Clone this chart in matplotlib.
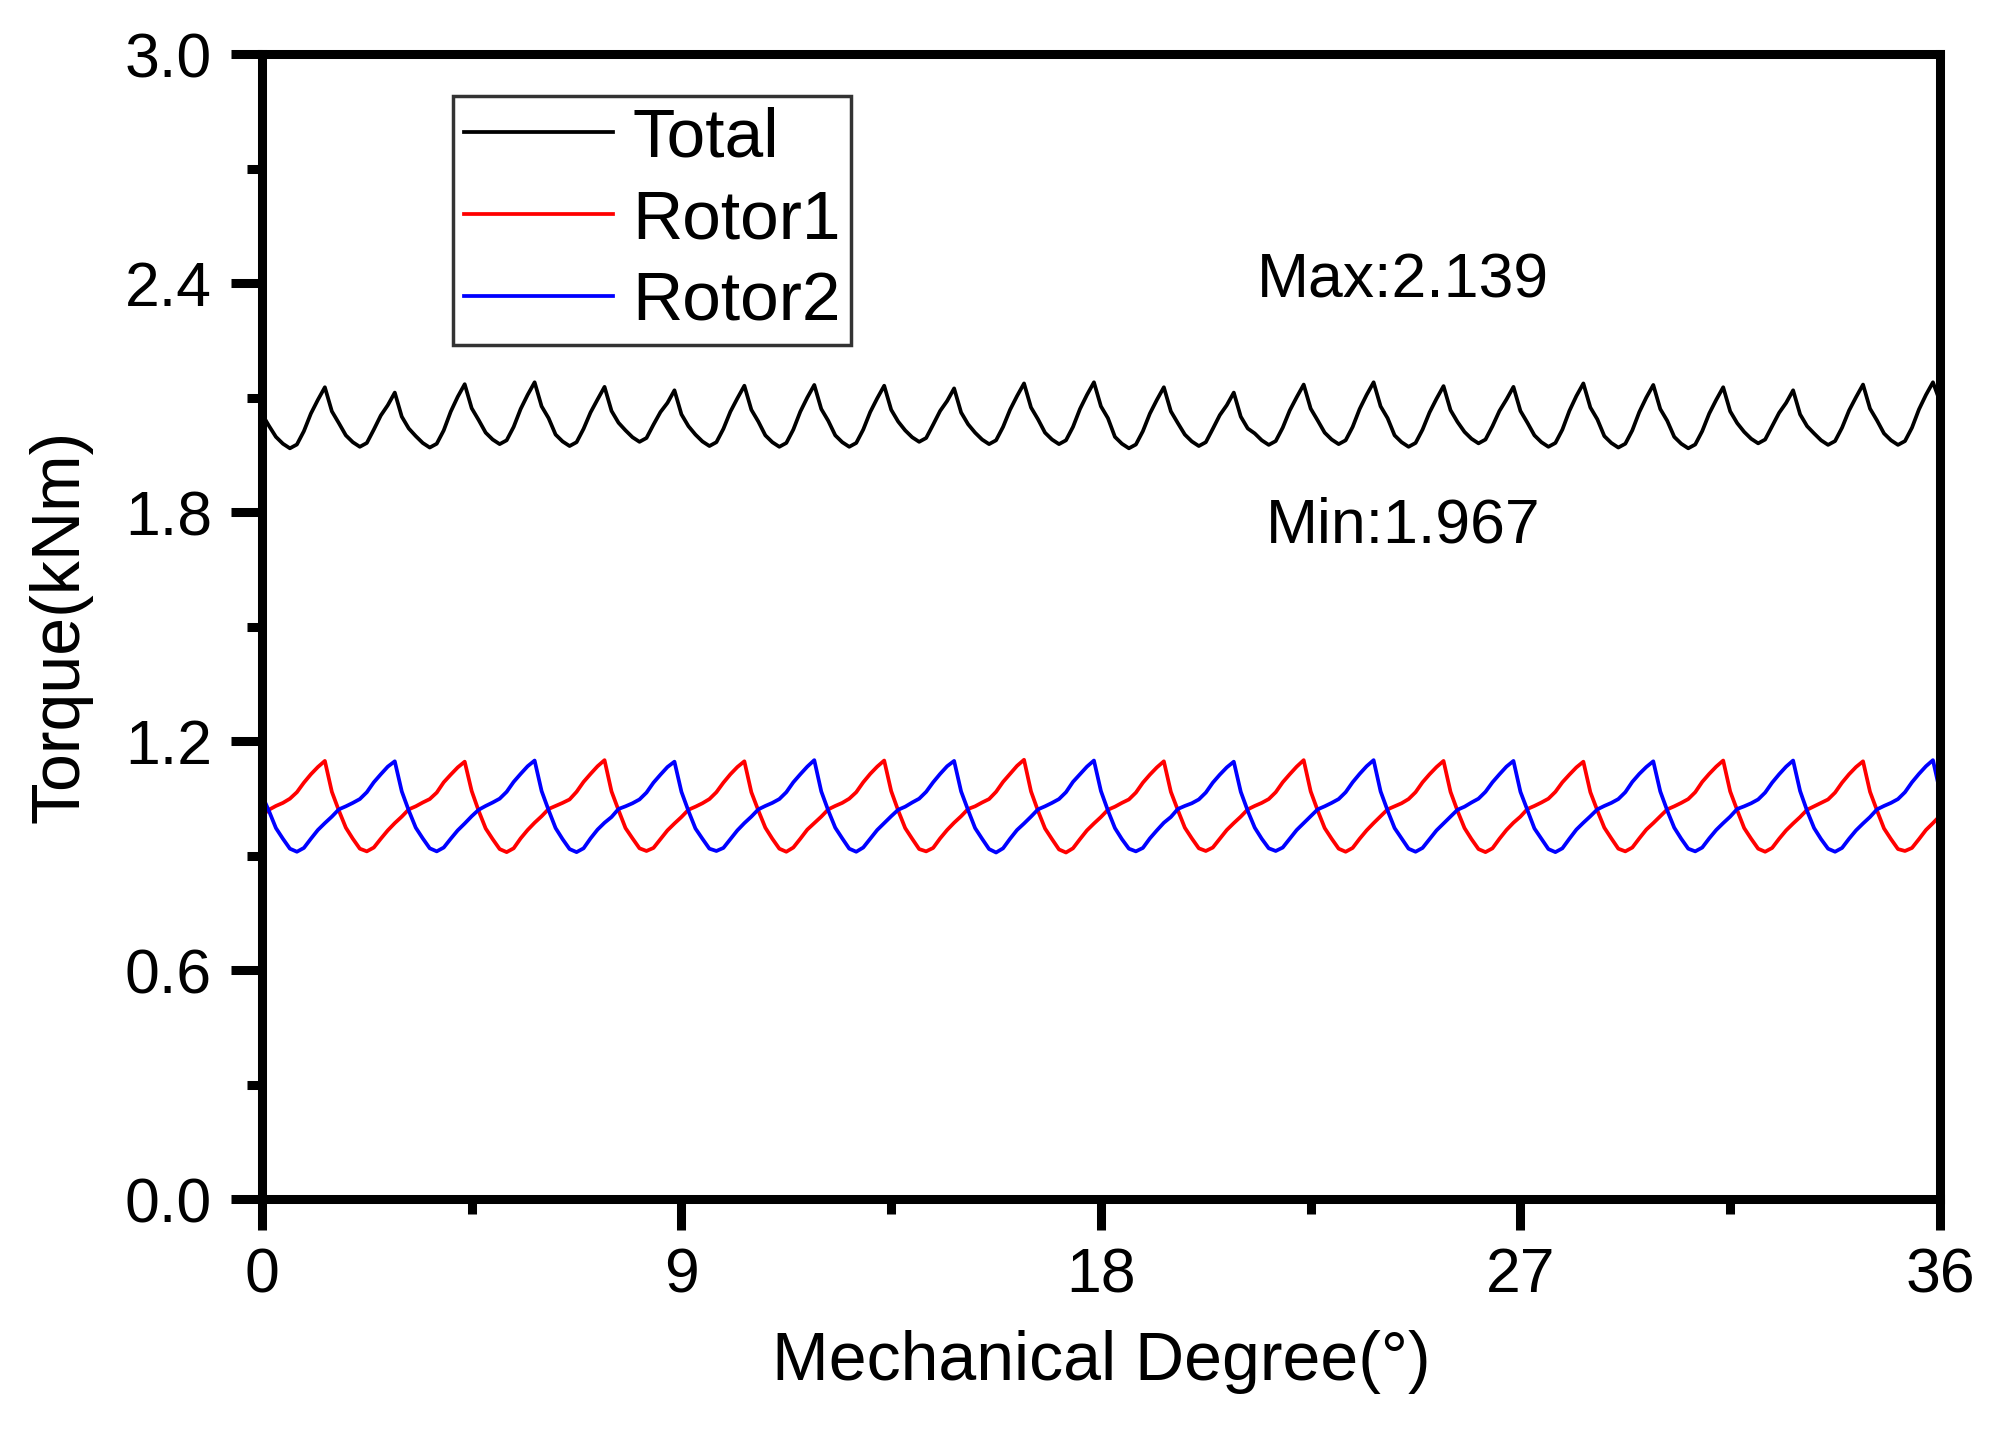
import numpy as np
import matplotlib
matplotlib.use("Agg")
import matplotlib.pyplot as plt
from matplotlib.ticker import MultipleLocator

plt.rcParams['font.family'] = ['Liberation Sans', 'DejaVu Sans']

# sample positions (mechanical degree), 0.15 deg step
angle = np.linspace(0, 36, 241)

# torque values (kNm), 10 samples per row
total = [
    2.057, 2.026, 1.997, 1.979, 1.967, 1.977, 2.012, 2.058, 2.094, 2.127,
    2.064, 2.033, 2.001, 1.983, 1.971, 1.981, 2.016, 2.053, 2.080, 2.113,
    2.050, 2.019, 1.999, 1.981, 1.969, 1.979, 2.014, 2.063, 2.102, 2.135,
    2.072, 2.041, 2.008, 1.990, 1.978, 1.988, 2.023, 2.070, 2.107, 2.140,
    2.077, 2.046, 2.003, 1.985, 1.973, 1.983, 2.018, 2.061, 2.095, 2.128,
    2.065, 2.034, 2.014, 1.996, 1.984, 1.994, 2.029, 2.062, 2.086, 2.119,
    2.056, 2.025, 2.003, 1.985, 1.973, 1.983, 2.018, 2.063, 2.098, 2.131,
    2.068, 2.037, 2.001, 1.983, 1.971, 1.981, 2.016, 2.063, 2.100, 2.133,
    2.070, 2.039, 2.001, 1.983, 1.971, 1.981, 2.016, 2.062, 2.098, 2.131,
    2.068, 2.037, 2.014, 1.996, 1.984, 1.994, 2.029, 2.065, 2.091, 2.124,
    2.061, 2.030, 2.008, 1.990, 1.978, 1.988, 2.023, 2.068, 2.104, 2.137,
    2.074, 2.043, 2.008, 1.990, 1.978, 1.988, 2.023, 2.070, 2.107, 2.140,
    2.077, 2.046, 1.997, 1.979, 1.967, 1.977, 2.012, 2.058, 2.094, 2.127,
    2.064, 2.033, 2.003, 1.985, 1.973, 1.983, 2.018, 2.054, 2.080, 2.113,
    2.050, 2.019, 2.006, 1.988, 1.976, 1.986, 2.021, 2.066, 2.101, 2.134,
    2.071, 2.040, 2.008, 1.990, 1.978, 1.988, 2.023, 2.070, 2.107, 2.140,
    2.077, 2.046, 2.001, 1.983, 1.971, 1.981, 2.016, 2.061, 2.097, 2.130,
    2.067, 2.036, 2.010, 1.992, 1.980, 1.990, 2.025, 2.065, 2.095, 2.128,
    2.065, 2.034, 2.001, 1.983, 1.971, 1.981, 2.016, 2.065, 2.104, 2.137,
    2.074, 2.043, 1.999, 1.981, 1.969, 1.979, 2.014, 2.062, 2.100, 2.133,
    2.070, 2.039, 1.997, 1.979, 1.967, 1.977, 2.012, 2.058, 2.094, 2.127,
    2.064, 2.033, 2.010, 1.992, 1.980, 1.990, 2.025, 2.060, 2.086, 2.119,
    2.056, 2.025, 2.006, 1.988, 1.976, 1.986, 2.021, 2.066, 2.101, 2.134,
    2.071, 2.040, 2.006, 1.988, 1.976, 1.986, 2.021, 2.069, 2.107, 2.140,
    2.090,
]

rotor1 = [
    1.004, 1.020, 1.030, 1.038, 1.049, 1.066, 1.091, 1.113, 1.132, 1.148,
    1.067, 1.018, 0.973, 0.944, 0.918, 0.911, 0.921, 0.944, 0.966, 0.985,
    1.002, 1.021, 1.029, 1.039, 1.048, 1.065, 1.092, 1.112, 1.131, 1.146,
    1.069, 1.017, 0.971, 0.943, 0.917, 0.909, 0.919, 0.945, 0.967, 0.986,
    1.003, 1.022, 1.030, 1.038, 1.047, 1.067, 1.093, 1.114, 1.134, 1.150,
    1.068, 1.019, 0.972, 0.945, 0.919, 0.912, 0.920, 0.943, 0.966, 0.984,
    1.001, 1.020, 1.028, 1.037, 1.048, 1.066, 1.091, 1.113, 1.132, 1.147,
    1.066, 1.018, 0.973, 0.944, 0.918, 0.910, 0.921, 0.944, 0.968, 0.985,
    1.002, 1.021, 1.030, 1.038, 1.049, 1.066, 1.092, 1.114, 1.133, 1.149,
    1.069, 1.018, 0.972, 0.944, 0.917, 0.911, 0.920, 0.945, 0.967, 0.986,
    1.003, 1.022, 1.029, 1.039, 1.048, 1.067, 1.093, 1.114, 1.135, 1.151,
    1.068, 1.017, 0.971, 0.943, 0.916, 0.908, 0.919, 0.943, 0.966, 0.984,
    1.001, 1.020, 1.028, 1.038, 1.047, 1.065, 1.091, 1.112, 1.131, 1.147,
    1.067, 1.019, 0.973, 0.945, 0.919, 0.912, 0.921, 0.944, 0.967, 0.985,
    1.002, 1.021, 1.030, 1.038, 1.048, 1.066, 1.092, 1.113, 1.133, 1.150,
    1.068, 1.018, 0.972, 0.944, 0.918, 0.910, 0.920, 0.944, 0.966, 0.985,
    1.003, 1.021, 1.029, 1.037, 1.048, 1.066, 1.092, 1.113, 1.132, 1.148,
    1.067, 1.017, 0.972, 0.943, 0.917, 0.909, 0.919, 0.944, 0.967, 0.986,
    1.002, 1.022, 1.030, 1.039, 1.049, 1.067, 1.092, 1.112, 1.131, 1.146,
    1.066, 1.018, 0.973, 0.945, 0.918, 0.911, 0.921, 0.945, 0.968, 0.985,
    1.003, 1.021, 1.029, 1.038, 1.048, 1.066, 1.093, 1.114, 1.133, 1.149,
    1.068, 1.019, 0.972, 0.944, 0.918, 0.910, 0.920, 0.944, 0.966, 0.984,
    1.001, 1.020, 1.029, 1.038, 1.047, 1.065, 1.091, 1.113, 1.132, 1.147,
    1.067, 1.018, 0.971, 0.943, 0.917, 0.912, 0.920, 0.943, 0.967, 0.985,
    1.004,
]

rotor2 = [
    1.058, 1.017, 0.972, 0.944, 0.918, 0.910, 0.920, 0.944, 0.967, 0.985,
    1.002, 1.021, 1.029, 1.038, 1.048, 1.066, 1.092, 1.113, 1.133, 1.147,
    1.068, 1.018, 0.973, 0.945, 0.919, 0.911, 0.921, 0.944, 0.966, 0.984,
    1.003, 1.020, 1.030, 1.039, 1.049, 1.067, 1.093, 1.114, 1.134, 1.149,
    1.069, 1.019, 0.972, 0.943, 0.917, 0.909, 0.919, 0.945, 0.968, 0.986,
    1.001, 1.022, 1.029, 1.037, 1.047, 1.065, 1.091, 1.112, 1.132, 1.146,
    1.067, 1.017, 0.971, 0.944, 0.918, 0.912, 0.920, 0.943, 0.966, 0.985,
    1.002, 1.021, 1.030, 1.038, 1.048, 1.066, 1.092, 1.113, 1.133, 1.150,
    1.068, 1.018, 0.973, 0.945, 0.918, 0.910, 0.921, 0.944, 0.967, 0.985,
    1.003, 1.020, 1.028, 1.039, 1.049, 1.067, 1.092, 1.114, 1.134, 1.148,
    1.068, 1.019, 0.972, 0.944, 0.917, 0.908, 0.919, 0.944, 0.967, 0.984,
    1.002, 1.021, 1.029, 1.038, 1.048, 1.066, 1.093, 1.113, 1.133, 1.149,
    1.069, 1.018, 0.972, 0.943, 0.918, 0.911, 0.920, 0.945, 0.966, 0.986,
    1.001, 1.022, 1.030, 1.037, 1.047, 1.065, 1.091, 1.112, 1.131, 1.146,
    1.067, 1.017, 0.973, 0.944, 0.919, 0.912, 0.921, 0.944, 0.967, 0.985,
    1.003, 1.021, 1.029, 1.038, 1.048, 1.066, 1.092, 1.114, 1.134, 1.150,
    1.068, 1.018, 0.972, 0.945, 0.918, 0.910, 0.920, 0.943, 0.966, 0.984,
    1.002, 1.020, 1.028, 1.039, 1.049, 1.067, 1.092, 1.113, 1.133, 1.148,
    1.067, 1.019, 0.971, 0.944, 0.917, 0.909, 0.919, 0.944, 0.968, 0.986,
    1.003, 1.021, 1.030, 1.038, 1.048, 1.066, 1.093, 1.114, 1.132, 1.147,
    1.068, 1.018, 0.973, 0.944, 0.918, 0.911, 0.921, 0.945, 0.967, 0.985,
    1.002, 1.022, 1.029, 1.037, 1.047, 1.065, 1.091, 1.113, 1.133, 1.149,
    1.069, 1.017, 0.972, 0.943, 0.918, 0.910, 0.920, 0.944, 0.966, 0.984,
    1.001, 1.021, 1.030, 1.038, 1.048, 1.066, 1.092, 1.114, 1.134, 1.150,
    1.068,
]

max_text = "Max:2.139"
min_text = "Min:1.967"

fig = plt.figure(figsize=(19.95, 14.3), dpi=100)
ax = fig.add_axes([0.1313, 0.1615, 0.8411, 0.8007])

ax.plot(angle, total, color='black', lw=2.7, label='Total')
ax.plot(angle, rotor1, color='#ff0000', lw=2.7, label='Rotor1')
ax.plot(angle, rotor2, color='#0000ff', lw=2.7, label='Rotor2')

ax.set_xlim(0, 36)
ax.set_ylim(0, 3.0)
ax.xaxis.set_major_locator(MultipleLocator(9))
ax.xaxis.set_minor_locator(MultipleLocator(4.5))
ax.yaxis.set_major_locator(MultipleLocator(0.6))
ax.yaxis.set_minor_locator(MultipleLocator(0.3))
ax.set_yticklabels(['%.1f' % v for v in ax.get_yticks()])

for s in ax.spines.values():
    s.set_linewidth(6.5)
ax.tick_params(which='major', direction='out', length=22, width=6.5,
               labelsize=45, top=False, right=False)
ax.tick_params(which='minor', direction='out', length=11, width=6.5,
               top=False, right=False)
ax.tick_params(axis='x', which='major', pad=12)
ax.tick_params(axis='y', which='major', pad=14)

ax.set_xlabel('Mechanical Degree(°)', fontsize=49, labelpad=18)
ax.set_ylabel('Torque(kNm)', fontsize=49, labelpad=23)

ax.text(0.680, 0.787, max_text, transform=ax.transAxes, fontsize=45,
        ha='center', va='baseline')
ax.text(0.680, 0.573, min_text, transform=ax.transAxes, fontsize=45,
        ha='center', va='baseline')

leg = ax.legend(loc='upper left', bbox_to_anchor=(0.114, 0.9633),
                borderaxespad=0, fontsize=50, frameon=True, fancybox=False,
                edgecolor='black', handlelength=2.15, handletextpad=0.28,
                labelspacing=0.26, borderpad=0.15)
leg.get_frame().set_linewidth(2.5)
for h in leg.get_lines():
    h.set_linewidth(2.7)

fig.savefig('out.png', dpi=100)
